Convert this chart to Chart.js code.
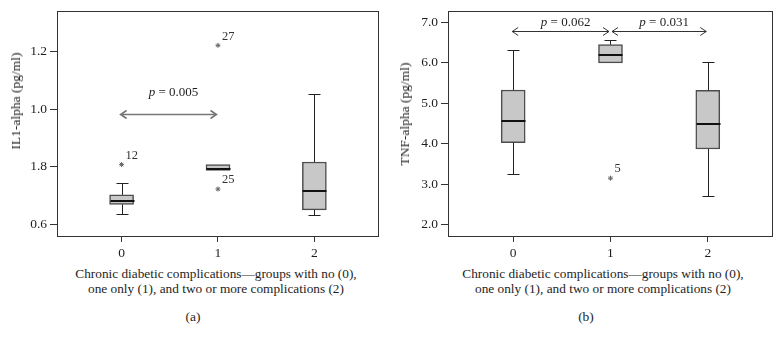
<!DOCTYPE html>
<html>
<head>
<meta charset="utf-8">
<script src="https://cdn.jsdelivr.net/npm/chart.js@4.4.1/dist/chart.umd.min.js"></script>
<style>
  body { margin: 0; background: #fff; width: 782px; height: 342px; overflow: hidden; position: relative;
         font-family: "Liberation Serif", serif; color: #1e1e1e; }
  canvas { position: absolute; top: 0; }
  .ytitle { position: absolute; font-size: 13.5px; white-space: nowrap; transform: translate(-50%, -50%) rotate(-90deg); }
  .caption { position: absolute; font-size: 13.3px; line-height: 15px; text-align: center; white-space: nowrap; transform: translateX(-50%); }
  .tag { position: absolute; font-size: 13.5px; line-height: 16px; transform: translateX(-50%); }
</style>
</head>
<body>
<canvas id="chartA" width="391" height="262" style="left:0"></canvas>
<canvas id="chartB" width="391" height="262" style="left:391px"></canvas>

<div class="ytitle" style="left:16px;top:101px">IL1-alpha (pg/ml)</div>
<div class="ytitle" style="left:405px;top:114px">TNF-alpha (pg/ml)</div>

<div class="caption" style="left:216px;top:266px">Chronic diabetic complications—groups with no (0),<br>one only (1), and two or more complications (2)</div>
<div class="caption" style="left:603px;top:266px">Chronic diabetic complications—groups with no (0),<br>one only (1), and two or more complications (2)</div>
<div class="tag" style="left:193px;top:309px">(a)</div>
<div class="tag" style="left:586px;top:309px">(b)</div>

<script>
// ── Data ─────────────────────────────────────────────────────────────────────
const groups = ['0', '1', '2'];

// (a) IL1-alpha
const il1Lo     = [0.637, 0.788, 0.634];
const il1Q1     = [0.670, 0.788, 0.651];
const il1Median = [0.683, 0.793, 0.717];
const il1Q3     = [0.703, 0.808, 0.817];
const il1Hi     = [0.745, 0.808, 1.053];
const il1Outliers = [
  { x: 0, y: 0.808, label: '12' },
  { x: 1, y: 1.222, label: '27' },
  { x: 1, y: 0.723, label: '25' },
];
const il1TickValues = [0.6, 0.8, 1.0, 1.2];
const il1TickLabels = ['0.6', '1.8', '1.0', '1.2'];   // printed as in the source figure
const il1Tests = [{ from: 0, to: 1, y: 0.982, p: '0.005' }];

// (b) TNF-alpha
const tnfLo     = [3.25, 6.00, 2.72];
const tnfQ1     = [4.03, 6.00, 3.87];
const tnfMedian = [4.565, 6.19, 4.48];
const tnfQ3     = [5.33, 6.45, 5.32];
const tnfHi     = [6.33, 6.56, 6.03];
const tnfOutliers = [{ x: 1, y: 3.15, label: '5' }];
const tnfTickValues = [2, 3, 4, 5, 6, 7];
const tnfTickLabels = ['2.0', '3.0', '4.0', '5.0', '6.0', '7.0'];
const tnfTests = [
  { from: 0, to: 1, y: 6.79, p: '0.062' },
  { from: 1, to: 2, y: 6.79, p: '0.031' },
];

// ── Styling ───────────────────────────────────────────────────────────────────
const FONT = '"Liberation Serif", serif';
Chart.defaults.font.family = FONT;
Chart.defaults.font.size = 13.5;
Chart.defaults.color = '#1e1e1e';

const BOX_W = 24;

// whiskers, medians, outlier tags, p-value arrows, frame
const boxExtras = {
  id: 'boxExtras',
  afterDatasetsDraw(chart, args, o) {
    const { ctx, scales: { x, y } } = chart;
    ctx.save();
    o.median.forEach((m, i) => {
      const cx = Math.round(x.getPixelForValue(i)) + 0.5;
      const line = (x1, y1, x2, y2) => { ctx.beginPath(); ctx.moveTo(x1, y1); ctx.lineTo(x2, y2); ctx.stroke(); };
      ctx.strokeStyle = '#222';
      ctx.lineWidth = 1;
      if (o.hi[i] > o.q3[i]) {
        const yh = Math.round(y.getPixelForValue(o.hi[i])) + 0.5;
        line(cx, y.getPixelForValue(o.q3[i]), cx, yh);
        line(cx - 6, yh, cx + 6, yh);
      }
      if (o.lo[i] < o.q1[i]) {
        const yl = Math.round(y.getPixelForValue(o.lo[i])) + 0.5;
        line(cx, y.getPixelForValue(o.q1[i]), cx, yl);
        line(cx - 6, yl, cx + 6, yl);
      }
      ctx.strokeStyle = '#111';
      ctx.lineWidth = 2;
      const ym = Math.round(y.getPixelForValue(m));
      line(cx - BOX_W / 2, ym, cx + BOX_W / 2, ym);
    });

    // outlier case numbers
    ctx.fillStyle = '#333';
    ctx.font = '12.5px ' + FONT;
    ctx.textAlign = 'left';
    ctx.textBaseline = 'middle';
    o.outliers.forEach(p => {
      ctx.fillText(p.label, x.getPixelForValue(p.x) + 4, y.getPixelForValue(p.y) - 9);
    });

    // p-value arrows
    o.tests.forEach(t => {
      const yy = Math.round(y.getPixelForValue(t.y)) + 0.5;
      const x1 = x.getPixelForValue(t.from) + (t.from === 1 ? 1.5 : -1);
      const x2 = x.getPixelForValue(t.to) - 1.5;
      ctx.strokeStyle = o.arrowColor;
      ctx.lineWidth = o.arrowWidth;
      ctx.beginPath();
      ctx.moveTo(x1, yy); ctx.lineTo(x2, yy);
      ctx.moveTo(x1 + 6, yy - 4); ctx.lineTo(x1, yy); ctx.lineTo(x1 + 6, yy + 4);
      ctx.moveTo(x2 - 6, yy - 4); ctx.lineTo(x2, yy); ctx.lineTo(x2 - 6, yy + 4);
      ctx.stroke();

      const rest = ' = ' + t.p;
      ctx.font = 'italic 13px ' + FONT;
      const wp = ctx.measureText('p').width;
      ctx.font = '13px ' + FONT;
      const wr = ctx.measureText(rest).width;
      const cx = (x1 + x2) / 2 + 5;
      const ty = yy - o.labelGap;
      let tx = cx - (wp + wr) / 2;
      ctx.fillStyle = '#1e1e1e';
      ctx.font = 'italic 13px ' + FONT;
      ctx.fillText('p', tx, ty);
      ctx.font = '13px ' + FONT;
      ctx.fillText(rest, tx + wp, ty);
    });
    ctx.restore();
  },
  afterDraw(chart) {
    const { ctx, chartArea: a } = chart;
    ctx.save();
    ctx.strokeStyle = '#333';
    ctx.lineWidth = 1;
    ctx.strokeRect(Math.round(a.left) + 0.5, Math.round(a.top) + 0.5,
                   Math.round(a.right - a.left), Math.round(a.bottom - a.top));
    ctx.restore();
  },
};

function makeBoxChart(id, d) {
  return new Chart(document.getElementById(id), {
    type: 'bar',
    data: {
      datasets: [
        {
          type: 'bar',
          data: groups.map((g, i) => ({ x: i, y: [d.q1[i], d.q3[i]] })),
          backgroundColor: '#c8c8c8',
          borderColor: '#4d4d4d',
          borderWidth: 1.5,
          borderSkipped: false,
          barThickness: BOX_W,
        },
        {
          type: 'scatter',
          data: d.outliers.map(p => ({ x: p.x, y: p.y })),
          pointStyle: 'star',
          radius: 2.5,
          borderColor: '#666',
          borderWidth: 1,
        },
      ],
    },
    options: {
      responsive: false,
      animation: false,
      devicePixelRatio: 1,
      layout: { padding: d.padding },
      plugins: {
        legend: { display: false },
        tooltip: { enabled: false },
        boxExtras: {
          lo: d.lo, q1: d.q1, median: d.median, q3: d.q3, hi: d.hi,
          outliers: d.outliers, tests: d.tests,
          arrowColor: d.arrowColor, arrowWidth: d.arrowWidth, labelGap: d.labelGap,
        },
      },
      scales: {
        x: {
          type: 'linear',
          offset: false,
          min: -0.67, max: 2.66,
          afterBuildTicks: s => { s.ticks = groups.map((g, i) => ({ value: i })); },
          afterFit: s => { s.height = 26; },
          ticks: { padding: 3, callback: v => groups[v] },
          grid: { offset: false, drawOnChartArea: false, drawTicks: true, tickLength: 6, color: '#333' },
          border: { display: false },
        },
        y: {
          min: d.yMin, max: d.yMax,
          afterBuildTicks: s => { s.ticks = d.tickValues.map(v => ({ value: v })); },
          afterFit: s => { s.width = 57; },
          ticks: { padding: 3, callback: (v, i) => d.tickLabels[i] },
          grid: { drawOnChartArea: false, drawTicks: true, tickLength: 7, color: '#333' },
          border: { display: false },
        },
      },
    },
    plugins: [boxExtras],
  });
}

makeBoxChart('chartA', {
  lo: il1Lo, q1: il1Q1, median: il1Median, q3: il1Q3, hi: il1Hi,
  outliers: il1Outliers, tests: il1Tests,
  tickValues: il1TickValues, tickLabels: il1TickLabels,
  yMin: 0.56, yMax: 1.341,
  padding: { left: 0, top: 8, right: 13, bottom: 0 },
  arrowColor: '#777', arrowWidth: 1.6, labelGap: 22,
});

makeBoxChart('chartB', {
  lo: tnfLo, q1: tnfQ1, median: tnfMedian, q3: tnfQ3, hi: tnfHi,
  outliers: tnfOutliers, tests: tnfTests,
  tickValues: tnfTickValues, tickLabels: tnfTickLabels,
  yMin: 1.72, yMax: 7.28,
  padding: { left: 0, top: 9, right: 10, bottom: 0 },
  arrowColor: '#333', arrowWidth: 1, labelGap: 9,
});
</script>
</body>
</html>
